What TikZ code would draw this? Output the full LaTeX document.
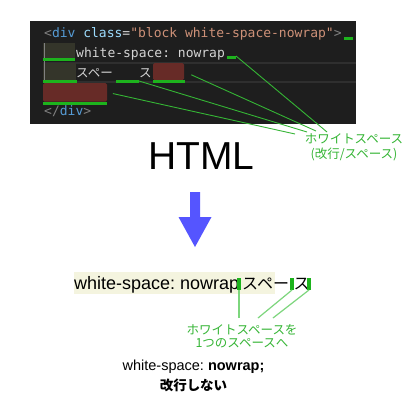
\documentclass[tikz,border=0pt]{standalone}
\usepackage{fontspec}
\setmainfont{Liberation Sans}
\newfontfamily\jpfont{Noto Sans CJK JP}
\newfontfamily\codefont{DejaVu Sans Mono}
\usepackage{xcolor}
\usepackage{tikz}
\usetikzlibrary{positioning}
\frenchspacing
\definecolor{codebg}{HTML}{1E1E1E}
\definecolor{codefg}{HTML}{D4D4D4}
\definecolor{tagpunct}{HTML}{808080}
\definecolor{tagname}{HTML}{569CD6}
\definecolor{attrname}{HTML}{9CDCFE}
\definecolor{attrval}{HTML}{CE9178}
\definecolor{indentbg}{HTML}{34352A}
\definecolor{zenkaku}{HTML}{672B27}
\definecolor{curline}{HTML}{2F2F2F}
\definecolor{wsgreen}{HTML}{1DB31D}
\definecolor{notegreen}{HTML}{35B535}
\definecolor{softgreen}{HTML}{7DD67D}
\definecolor{flowbg}{HTML}{F4F4DF}
\definecolor{arrowblue}{HTML}{5555FF}
\tikzset{
    box/.style={rectangle, inner sep=0pt, outer sep=0pt, anchor=north west},
    wsbar/.style={box, fill=wsgreen, minimum height=3pt},
    wsmark/.style={box, fill=wsgreen, minimum width=4pt, minimum height=12pt},
    codetext/.style={anchor=base west, inner sep=0pt, text=codefg, font=\codefont\fontsize{13}{15}\selectfont},
    jpcode/.style={codetext, font=\jpfont\fontsize{12.5}{15}\selectfont},
    link/.style={draw=notegreen, line width=0.9pt},
    softlink/.style={draw=softgreen, line width=1.2pt},
    note/.style={align=center, inner sep=0pt, text=notegreen},
    flowtext/.style={anchor=base west, inner sep=0pt, font=\fontsize{18}{20}\selectfont}
}

\begin{document}
\begin{tikzpicture}[x=1pt, y=-1pt]
    \fill[white] (0,0) rectangle (416,416);

    % Source code
    \fill[codebg] (30,21) rectangle (356,124);
    \draw[curline, line width=1.5pt] (43,63) -- (356,63) (43,82) -- (356,82);
    \node [box, fill=indentbg, minimum width=32pt, minimum height=16pt] (indent1) at (43,43) {};
    \node [box, fill=indentbg, minimum width=33pt, minimum height=17pt] (indent2) at (43,63) {};
    \node [box, fill=zenkaku, rounded corners=1.5pt, minimum width=31pt, minimum height=17pt] (zen1) at (153,63) {};
    \node [box, fill=zenkaku, rounded corners=1.5pt, minimum width=64pt, minimum height=18.5pt] (zen2) at (43,83) {};
    \draw[tagpunct, line width=0.8pt] (44,43) -- (44,80);

    \node [codetext] (line1) at (44,37) {\textcolor{tagpunct}{<}\textcolor{tagname}{div} \textcolor{attrname}{class}=\textcolor{attrval}{"block white-space-nowrap"}\textcolor{tagpunct}{>}};
    \node [codetext] (line2) at (76,57) {white-space: nowrap};
    \node [jpcode] (line3a) at (76,77) {スペー};
    \node [jpcode] (line3b) at (139,77) {ス};
    \node [codetext] (line5) at (44,115) {\textcolor{tagpunct}{</}\textcolor{tagname}{div}\textcolor{tagpunct}{>}};

    % Visible white space
    \node [wsbar, minimum width=9pt] (nl1) at (344,36.5) {};
    \node [wsbar, minimum width=32pt] (tab1) at (43,58) {};
    \node [wsbar, minimum width=9pt] (nl2) at (227,56) {};
    \node [wsbar, minimum width=34pt] (tab2) at (43,79.5) {};
    \node [wsbar, minimum width=23pt] (sp1) at (116,79.5) {};
    \node [wsbar, minimum width=32pt] (zenbar1) at (153,79.5) {};
    \node [wsbar, minimum width=64pt] (zenbar2) at (43,101.5) {};

    % Note on the code
    \node [note, font=\jpfont\fontsize{12.5}{15}\selectfont] (wsnote) at (354,147) {ホワイトスペース\\(改行/スペース)};
    \coordinate (end1) at (327,132);
    \coordinate (end2) at (316,131);
    \coordinate (end3) at (307,132);
    \coordinate (end4) at (295,134);
    \path [link] (nl2.north east) -- (end1);
    \path [link, shorten <=8pt] (zen1.east) -- (end2);
    \path [link] (sp1.east) -- (end3);
    \path [link, shorten <=6pt] (zen2.east) -- (end4);

    % HTML and arrow
    \node [anchor=base, inner sep=0pt, font=\fontsize{39}{47}\selectfont] (html) at (201.5,169) {HTML};
    \fill[arrowblue] (190,192) -- (200,192) -- (200,217) -- (211.5,217) -- (195,247) -- (178.5,217) -- (190,217) -- cycle;

    % Rendered result
    \node [box, fill=flowbg, minimum width=201pt, minimum height=22pt] (flow) at (74,272) {};
    \node [flowtext] (flow1) at (74,289) {white-space: nowrap};
    \node [flowtext, font=\jpfont\fontsize{16}{20}\selectfont] (flow2) at (242,289) {スペー};
    \node [flowtext, font=\jpfont\fontsize{16}{20}\selectfont] (flow3) at (293.5,289) {ス};
    \node [wsmark] (mark1) at (237,278) {};
    \node [wsmark] (mark2) at (290,278) {};
    \node [wsmark] (mark3) at (307,278) {};

    % Note on the result
    \node [note, font=\jpfont\fontsize{12.5}{12.5}\selectfont] (onespace) at (242,336) {ホワイトスペースを\\1つのスペースへ};
    \coordinate (foot1) at (239,318);
    \coordinate (foot2) at (258,318);
    \coordinate (foot3) at (273,318);
    \path [softlink] (mark1.south) -- (foot1);
    \path [softlink] (mark2.south) -- (foot2);
    \path [softlink] (mark3.south) -- (foot3);

    % Caption
    \node [inner sep=0pt, font=\fontsize{14.5}{17}\selectfont] (caption) at (193.5,367) {white-space: \textbf{nowrap;}};
    \node [inner sep=0pt, below=5pt of caption, font=\jpfont\bfseries\fontsize{13.5}{16}\selectfont] (caption2) {改行しない};
\end{tikzpicture}
\end{document}
